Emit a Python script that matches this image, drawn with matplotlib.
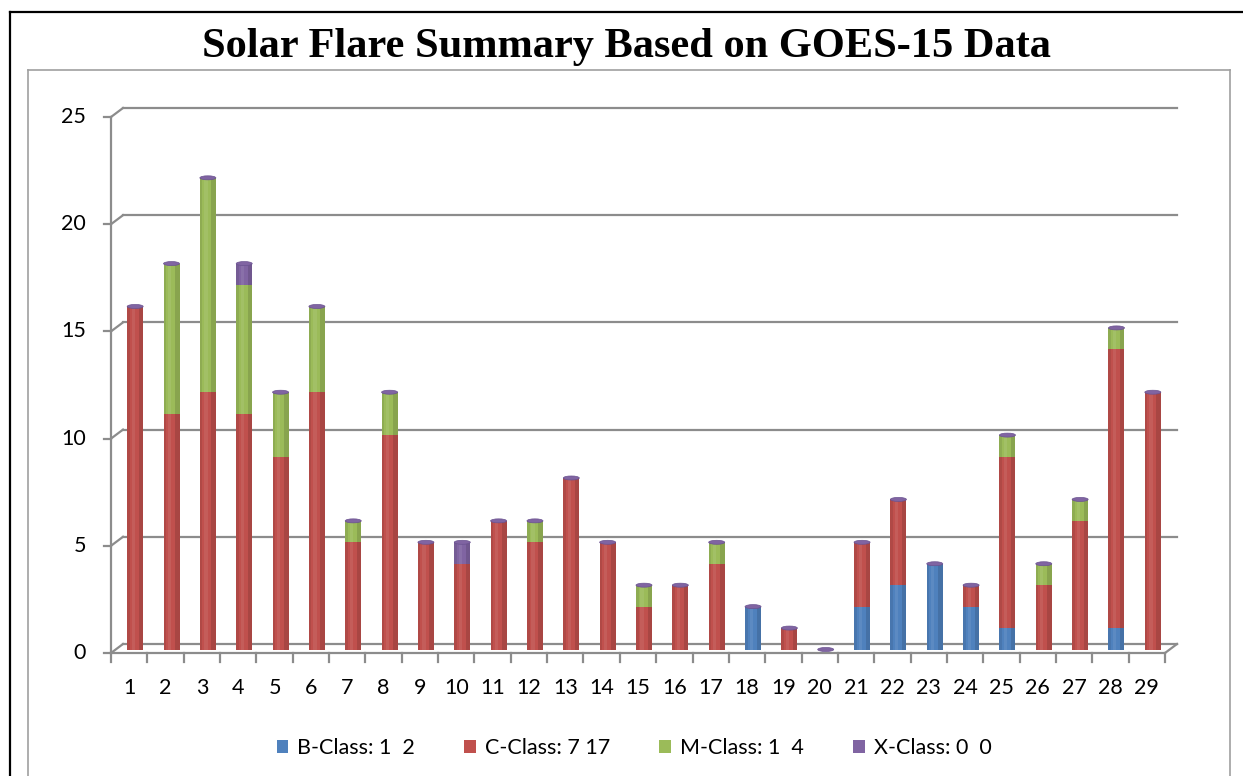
import numpy as np
import matplotlib.pyplot as plt
from matplotlib.patches import Ellipse, Patch
from matplotlib.lines import Line2D

days = [str(d) for d in range(1, 30)]
b_class = [0, 0, 0, 0, 0, 0, 0, 0, 0, 0, 0, 0, 0, 0, 0, 0, 0, 2, 0, 0, 2, 3, 4, 2, 1, 0, 0, 1, 0]
c_class = [16, 11, 12, 11, 9, 12, 5, 10, 5, 4, 6, 5, 8, 5, 2, 3, 4, 0, 1, 0, 3, 4, 0, 1, 8, 3, 6, 13, 12]
m_class = [0, 7, 10, 6, 3, 4, 1, 2, 0, 0, 0, 1, 0, 0, 1, 0, 1, 0, 0, 0, 0, 0, 0, 0, 1, 1, 1, 1, 0]
x_class = [0, 0, 0, 1, 0, 0, 0, 0, 0, 1, 0, 0, 0, 0, 0, 0, 0, 0, 0, 0, 0, 0, 0, 0, 0, 0, 0, 0, 0]
labels = ["B-Class: 1  2", "C-Class: 7 17", "M-Class: 1  4", "X-Class: 0  0"]
colors = ["#4F81BD", "#C0504D", "#9BBB59", "#8064A2"]
yticks = [0, 5, 10, 15, 20, 25]

W, H = 1243, 776
fig = plt.figure(figsize=(W / 100, H / 100), dpi=100)

# plot area in pixels (front plane)
x0, x1 = 111, 1165
y0, y1 = 653, 117
ax = fig.add_axes([x0 / W, 1 - y0 / H, (x1 - x0) / W, (y0 - y1) / H])
n = len(days)
ax.set_xlim(0.5, n + 0.5)
ax.set_ylim(0, 25)
ax.axis("off")

px_x = (x1 - x0) / n
px_y = (y0 - y1) / 25
ddx = 12 / px_x   # depth offset in data units
ddy = 9 / px_y
grid_c = "#8C8C8C"
lw = 1.6
tick_font = {"family": "Lato", "size": 15.5}

# back wall gridlines and diagonals
for v in yticks:
    ax.plot([0.5 + ddx, n + 0.5 + ddx], [v + ddy, v + ddy], color=grid_c, lw=lw, clip_on=False, zorder=1)
    ax.plot([0.5, 0.5 + ddx], [v, v + ddy], color=grid_c, lw=lw, clip_on=False, zorder=1)
    ax.plot([0.5 - 7 / px_x, 0.5], [v, v], color=grid_c, lw=lw, clip_on=False, zorder=1)
    ax.text(0.5 - 25 / px_x, v, str(v), ha="right", va="center", **tick_font)

# front axes
ax.plot([0.5, 0.5], [0, 25], color=grid_c, lw=lw, clip_on=False, zorder=1)
ax.plot([0.5, n + 0.5], [0, 0], color=grid_c, lw=lw, clip_on=False, zorder=1)
ax.plot([n + 0.5, n + 0.5 + ddx], [0, ddy], color=grid_c, lw=lw, clip_on=False, zorder=1)
for k in range(n + 1):
    ax.plot([k + 0.5, k + 0.5], [0, -9 / px_y], color=grid_c, lw=lw, clip_on=False, zorder=1)
for i, d in enumerate(days):
    ax.text(i + 1, -35 / px_y, d, ha="center", va="center", **tick_font)

# stacked cylinders
xs = np.arange(1, n + 1) + ddx / 2
bw = 16 / px_x
base = np.full(n, ddy / 2 - 1 / px_y)
for vals, c in zip([b_class, c_class, m_class, x_class], colors):
    vals = np.array(vals, dtype=float)
    ax.bar(xs, vals, bw, bottom=base, color=c, edgecolor="none", zorder=3, clip_on=False)
    # simple shading for a rounded look
    ax.bar(xs + bw * 0.36, vals, bw * 0.28, bottom=base, color="black", alpha=0.12,
           edgecolor="none", zorder=4, clip_on=False)
    ax.bar(xs - bw * 0.42, vals, bw * 0.16, bottom=base, color="black", alpha=0.08,
           edgecolor="none", zorder=4, clip_on=False)
    ax.bar(xs - bw * 0.12, vals, bw * 0.2, bottom=base, color="white", alpha=0.08,
           edgecolor="none", zorder=4, clip_on=False)
    base = base + vals

for x, top in zip(xs, base):
    ax.add_patch(Ellipse((x, top), bw, 4 / px_y, facecolor=colors[3], edgecolor="#6A5290",
                         lw=0.5, zorder=5, clip_on=False))

# title
fig.text(626 / W, 1 - 47 / H, "Solar Flare Summary Based on GOES-15 Data", ha="center", va="center",
         fontsize=30.5, fontweight="bold", family="Liberation Serif")

# legend
handles = [Patch(facecolor=c, edgecolor="none") for c in colors]
fig.legend(handles, labels, loc="center", bbox_to_anchor=(634 / W, 1 - 748 / H), ncol=4,
           frameon=False, prop={"family": "Lato", "size": 15.5}, handlelength=0.55, handleheight=0.55,
           handletextpad=0.4, columnspacing=2.3)

# frames
def figline(xp, yp, color, width):
    fig.add_artist(Line2D([p / W for p in xp], [1 - p / H for p in yp], color=color, lw=width))

figline([10, W], [12, 12], "black", 1.6)
figline([10, 10], [12, H], "black", 1.6)
figline([28, 1230], [70, 70], "#A0A0A0", 1.2)
figline([28, 28], [70, H], "#A0A0A0", 1.2)
figline([1230, 1230], [70, H], "#A0A0A0", 1.2)

fig.savefig("out.png", dpi=100)
